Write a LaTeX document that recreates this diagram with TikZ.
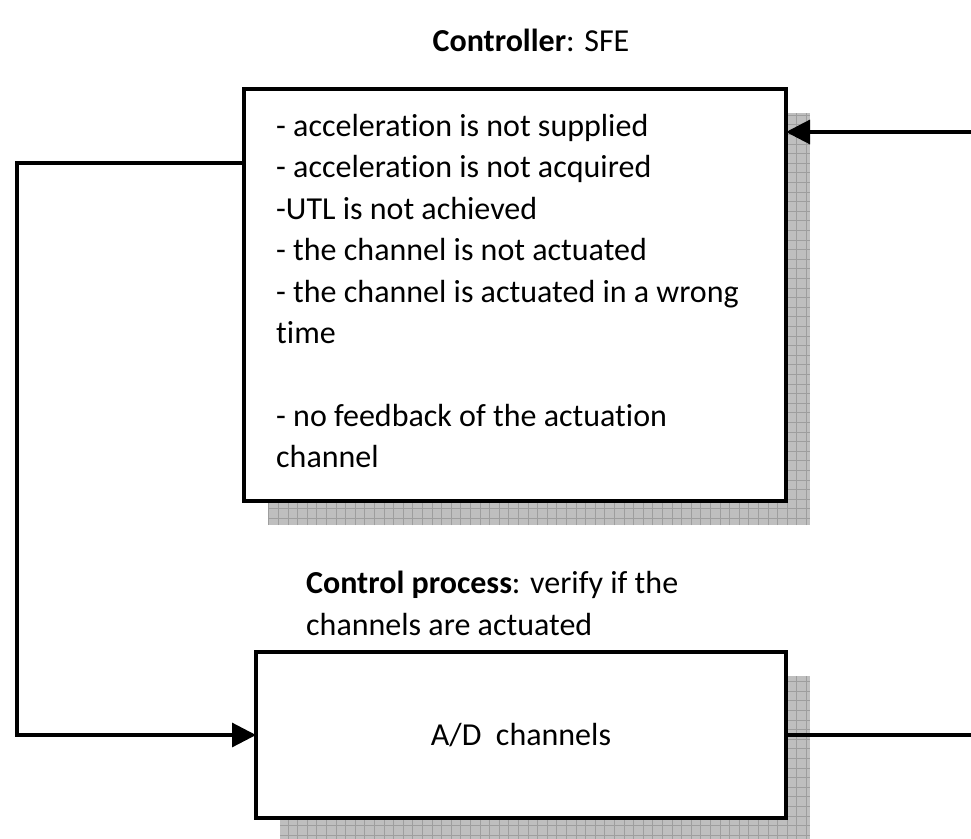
\documentclass[tikz,border=0pt]{standalone}
\usepackage{fontspec}
\setmainfont{Carlito}[Ligatures=NoCommon]
\usetikzlibrary{arrows.meta,backgrounds}

\begin{document}
\begin{tikzpicture}[
    x=1pt, y=-1pt,
    every node/.style={font=\fontsize{32}{41.4}\selectfont},
    box/.style={draw, line width=3.2pt, fill=white, inner sep=0pt, outer sep=0pt},
    shade/.style={fill=black!25},
    shadegrid/.style={draw=black!38, line width=0.8pt, step=9.6pt},
    txt/.style={anchor=north west, align=left, inner sep=0pt},
    arr/.style={-{Triangle[length=24pt, width=24pt]}, line width=3.2pt},
    link/.style={line width=3.2pt}
]
\useasboundingbox (0,0) rectangle (971,838);
\node (title) at (531,40) {\textbf{Controller}: SFE};
\node[box, minimum width=542pt, minimum height=412pt] (ctrl) at (515,295) {};
\node[txt] (fails) at (276,114) {- acceleration is not supplied\\
  - acceleration is not acquired\\
  -UTL is not achieved\\
  - the channel is not actuated\\
  - the channel is actuated in a wrong\\
  time\\[41.4pt]
  - no feedback of the actuation\\
  channel};
\node[txt] (proc) at (306,571) {\textbf{Control process}: verify if the\\channels are actuated};
\node[box, minimum width=530pt, minimum height=166pt] (chan) at (521,735) {A/D~~channels};
\coordinate (sensIn) at (971,132);
\coordinate (actOut) at (971,735);
\coordinate (loopL) at (17,163);
\draw[arr] (sensIn) -- (sensIn -| ctrl.east);
\draw[arr] (ctrl.west |- loopL) -- (loopL) |- (chan.west);
\draw[link] (chan.east) -- (actOut);
% drop shadows with grid
\begin{scope}[on background layer]
  \fill[shade] ([shift={(24,24)}]ctrl.north west) rectangle ([shift={(24,24)}]ctrl.south east);
  \draw[shadegrid] ([shift={(24,24)}]ctrl.north west) grid ([shift={(24,24)}]ctrl.south east);
  \fill[shade] ([shift={(24,24)}]chan.north west) rectangle ([shift={(24,24)}]chan.south east);
  \draw[shadegrid] ([shift={(24,24)}]chan.north west) grid ([shift={(24,24)}]chan.south east);
\end{scope}
\end{tikzpicture}
\end{document}
